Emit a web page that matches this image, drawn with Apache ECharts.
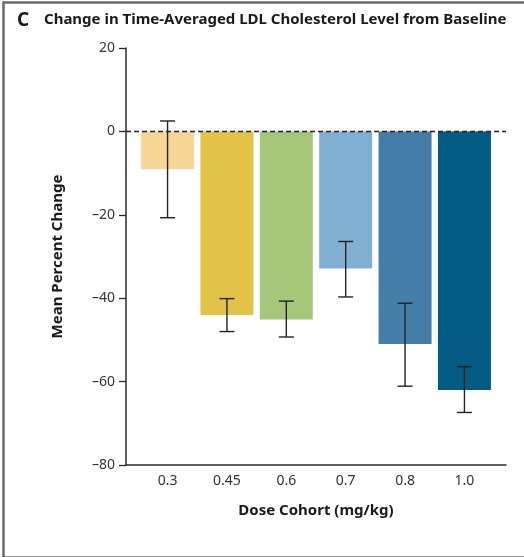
<!DOCTYPE html>
<html>
<head>
<meta charset="utf-8">
<script src="https://cdn.jsdelivr.net/npm/echarts@6/dist/echarts.min.js"></script>
<style>
html,body{margin:0;padding:0;background:#fff;}
#c{width:524px;height:557px;}
</style>
</head>
<body>
<div id="c"></div>
<script>
const categories = ['0.3', '0.45', '0.6', '0.7', '0.8', '1.0'];
const meanChange = [-9.1, -44.0, -45.1, -32.9, -51.0, -62.0];
const errLow = [-20.7, -48.0, -49.3, -39.7, -61.1, -67.4];
const errHigh = [2.5, -40.1, -40.7, -26.4, -41.2, -56.4];
const barColors = ['#F8D698', '#E2C349', '#A6C67A', '#80AFD2', '#447EA8', '#035B84'];
const yTicks = [-80, -60, -40, -20, 0, 20];

const chart = echarts.init(document.getElementById('c'), null, {renderer: 'canvas'});
const font = 'Noto Sans';
const positions = categories.map((c, i) => i);

chart.setOption({
  animation: false,
  backgroundColor: '#fff',
  title: [
    {text: 'C', left: 12, top: 6, textStyle: {fontFamily: font, fontWeight: 'bold', fontSize: 19, color: '#1a1a1a'}},
    {text: 'Change in Time-Averaged LDL Cholesterol Level from Baseline', left: 39, top: 7, textStyle: {fontFamily: font, fontWeight: 'bold', fontSize: 15, color: '#1a1a1a'}}
  ],
  graphic: [
    {type: 'rect', left: 1, top: 0, shape: {width: 540, height: 555}, style: {fill: 'none', stroke: '#6b6b6b', lineWidth: 2.5}, silent: true}
  ],
  grid: {left: 126, right: 18, top: 48, bottom: 92},
  xAxis: {
    type: 'value', min: -0.7, max: 5.7,
    splitLine: {show: false},
    axisLine: {show: true, onZero: false, lineStyle: {color: '#2a2a2a', width: 1.5}},
    axisTick: {show: false},
    axisLabel: {
      customValues: positions,
      formatter: v => categories[Math.round(v)],
      margin: 9, fontFamily: font, fontSize: 14, color: '#333'
    },
    name: 'Dose Cohort (mg/kg)', nameLocation: 'middle', nameGap: 38,
    nameTextStyle: {fontFamily: font, fontWeight: 'bold', fontSize: 15, color: '#1a1a1a'}
  },
  yAxis: {
    type: 'value', min: yTicks[0], max: yTicks[yTicks.length - 1], interval: 20,
    splitLine: {show: false},
    axisLine: {show: true, onZero: false, lineStyle: {color: '#2a2a2a', width: 1.5}},
    axisTick: {show: true, length: 7, lineStyle: {color: '#2a2a2a', width: 1.3}},
    axisLabel: {margin: 11, fontFamily: font, fontSize: 14, color: '#333', formatter: v => v < 0 ? '\u2013' + Math.abs(v) : String(v)},
    name: 'Mean Percent Change', nameLocation: 'middle', nameGap: 61, nameRotate: 90,
    nameTextStyle: {fontFamily: font, fontWeight: 'bold', fontSize: 15, color: '#1a1a1a'}
  },
  series: [
    {
      type: 'bar', barWidth: 53,
      data: meanChange.map((v, i) => ({value: [i, v], itemStyle: {color: barColors[i]}})),
      z: 2,
      markLine: {
        silent: true, symbol: 'none', label: {show: false},
        lineStyle: {type: [5, 3], color: '#222', width: 1.3},
        data: [{yAxis: 0}],
        z: 5
      }
    },
    {
      type: 'custom', z: 6,
      data: errLow.map((lo, i) => [i, lo, errHigh[i]]),
      renderItem: (params, api) => {
        const x = api.value(0);
        const lo = api.coord([x, api.value(1)]);
        const hi = api.coord([x, api.value(2)]);
        const hw = 7.5;
        const st = {stroke: '#222', lineWidth: 1.4};
        return {type: 'group', children: [
          {type: 'line', shape: {x1: lo[0], y1: lo[1], x2: hi[0], y2: hi[1]}, style: st},
          {type: 'line', shape: {x1: lo[0] - hw, y1: lo[1], x2: lo[0] + hw, y2: lo[1]}, style: st},
          {type: 'line', shape: {x1: hi[0] - hw, y1: hi[1], x2: hi[0] + hw, y2: hi[1]}, style: st}
        ]};
      }
    }
  ]
});
</script>
</body>
</html>
